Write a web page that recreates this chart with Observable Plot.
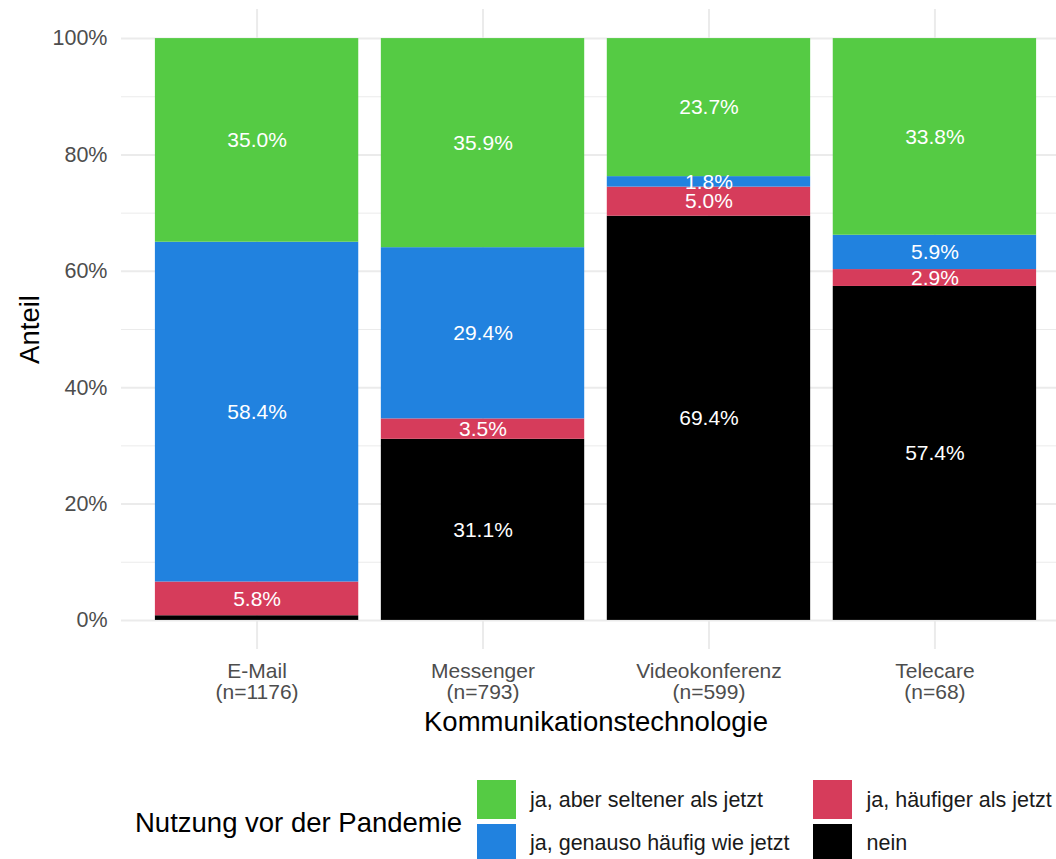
<!DOCTYPE html>
<html><head><meta charset="utf-8">
<script src="https://cdn.jsdelivr.net/npm/d3@7"></script>
<script src="https://cdn.jsdelivr.net/npm/@observablehq/plot@0.6"></script>
<style>
body{margin:0;background:#fff;font-family:"Liberation Sans",Arial,sans-serif;}
#wrap{position:relative;width:1056px;height:859px;overflow:hidden;background:#fff;}
#chart{position:absolute;left:0;top:0;}
.key{position:absolute;width:39px;height:39px;}
.lab{position:absolute;font-size:21.5px;color:#1a1a1a;white-space:nowrap;line-height:1;}
.ttl{position:absolute;font-size:27.5px;color:#000;white-space:nowrap;line-height:1;}
</style></head><body>
<div id="wrap"><div id="chart"></div><div id="legend"></div></div>
<script>
const categories = ["E-Mail", "Messenger", "Videokonferenz", "Telecare"];
const nValues = [1176, 793, 599, 68];
const series = ["nein", "ja, häufiger als jetzt", "ja, genauso häufig wie jetzt", "ja, aber seltener als jetzt"];
const colors = ["#000000", "#D63C5B", "#2182DF", "#55CB44"];
const nein = [0.8, 31.1, 69.4, 57.4];
const haeufiger = [5.8, 3.5, 5.0, 2.9];
const genauso = [58.4, 29.4, 1.8, 5.9];
const seltener = [35.0, 35.9, 23.7, 33.8];
const yTicks = [0, 0.2, 0.4, 0.6, 0.8, 1.0];
const yMinor = [0.1, 0.3, 0.5, 0.7, 0.9];
const legendOrder = ["ja, aber seltener als jetzt", "ja, genauso häufig wie jetzt", "ja, häufiger als jetzt", "nein"];

const seriesValues = [nein, haeufiger, genauso, seltener];
const rows = [];
series.forEach((s, si) => categories.forEach((c, ci) => rows.push({category: c, series: s, value: seriesValues[si][ci]})));

const W = 1056, H = 760;
const chart = Plot.plot({
  width: W, height: H,
  marginLeft: 121, marginRight: W - 1070, marginTop: 9, marginBottom: 111,
  style: {fontFamily: "'Liberation Sans', Arial, sans-serif", color: "#4d4d4d", background: "transparent"},
  x: {domain: categories, paddingInner: 0.1, paddingOuter: 0.15, align: 0.5, round: false},
  y: {domain: [-0.05, 1.05]},
  color: {domain: series, range: colors},
  marks: [
    Plot.gridY(yMinor, {stroke: "#ebebeb", strokeOpacity: 1, strokeWidth: 1}),
    Plot.gridY(yTicks, {stroke: "#ebebeb", strokeOpacity: 1, strokeWidth: 2}),
    Plot.gridX({stroke: "#ebebeb", strokeOpacity: 1, strokeWidth: 2}),
    Plot.barY(rows, Plot.stackY({x: "category", y: "value", fill: "series", order: series, offset: "normalize"})),
    Plot.text(rows, Plot.stackY({x: "category", y: "value", z: "series", order: series, offset: "normalize",
      text: d => d.value >= 1 ? d.value.toFixed(1) + "%" : "", fill: "white", fontSize: 21})),
    Plot.axisY(yTicks, {tickFormat: d => Math.round(d * 100) + "%", tickSize: 0, tickPadding: 14, fontSize: 21.5, label: null}),
    Plot.axisX({tickSize: 0, tickPadding: 14, fontSize: 21, lineHeight: 0.98, label: null,
      tickFormat: d => `${d}\n(n=${nValues[categories.indexOf(d)]})`}),
    Plot.text(["Kommunikationstechnologie"], {frameAnchor: "bottom", dy: 72.4, fontSize: 27.5, fill: "black", lineAnchor: "middle"}),
    Plot.text(["Anteil"], {frameAnchor: "left", dx: -91, rotate: -90, fontSize: 27.5, fill: "black", lineAnchor: "middle", textAnchor: "middle"})
  ]
});
document.getElementById("chart").appendChild(chart);

// legend (HTML, below the plot)
const leg = document.getElementById("legend");
const colorOf = s => colors[series.indexOf(s)];
const t = document.createElement("div");
t.className = "ttl"; t.textContent = "Nutzung vor der Pandemie";
t.style.left = "135px"; t.style.top = "808.7px";
leg.appendChild(t);
const cols = [{kx: 477, lx: 530}, {kx: 812.5, lx: 866.5}];
const rowsY = [{ky: 780, ly: 789.8}, {ky: 823.5, ly: 833}];
legendOrder.forEach((s, i) => {
  const c = cols[Math.floor(i / 2)], r = rowsY[i % 2];
  const k = document.createElement("div");
  k.className = "key"; k.style.background = colorOf(s);
  k.style.left = c.kx + "px"; k.style.top = r.ky + "px";
  leg.appendChild(k);
  const l = document.createElement("div");
  l.className = "lab"; l.textContent = s;
  l.style.left = c.lx + "px"; l.style.top = r.ly + "px";
  leg.appendChild(l);
});
</script>
</body></html>
